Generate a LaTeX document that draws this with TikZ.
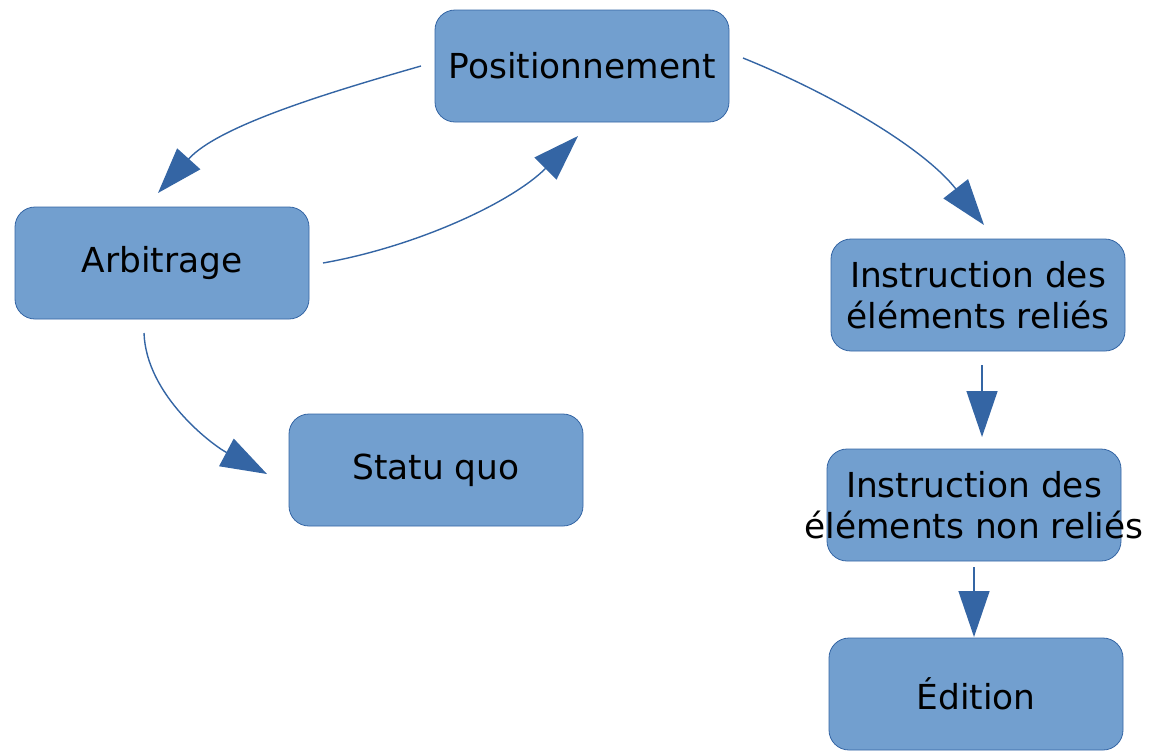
\documentclass[tikz,border=0pt]{standalone}
\usepackage{fontspec}
\setmainfont{DejaVu Sans}
\usetikzlibrary{arrows.meta}

\definecolor{boxfill}{HTML}{729FCF}
\definecolor{boxline}{HTML}{3465A4}

\tikzset{
  etape/.style={draw=boxline, fill=boxfill, rounded corners=10pt, minimum width=147pt,
    minimum height=56pt, inner sep=0pt, outer sep=7pt, align=center,
    font=\fontsize{17.2}{20.4}\selectfont},
  fleche/.style={draw=boxline, line width=0.7pt, -{Triangle[length=23pt,width=15.5pt]}}
}

\begin{document}
\begin{tikzpicture}[x=0.5pt,y=-0.5pt]

\useasboundingbox (0,0) rectangle (1154,751);

% Etapes
\draw (582,66) node[etape] (Positionnement) {Positionnement};
\draw (162,263) node[etape] (Arbitrage) {Arbitrage};
\draw (436,470) node[etape] (StatuQuo) {Statu quo};
\draw (978,295) node[etape] (Relies) {Instruction des\\éléments reliés};
\draw (974,505) node[etape] (NonRelies) {Instruction des\\\makebox[0pt]{éléments non reliés}};
\draw (976,694) node[etape] (Edition) {Édition};

% Pfeile
\draw[fleche] (Positionnement.west) to[out=196,in=48,looseness=0.8] ([xshift=-2pt]Arbitrage.north);
\draw[fleche] (Arbitrage.east) to[out=10,in=225,looseness=0.85] ([xshift=-2pt]Positionnement.south);
\draw[fleche] ([yshift=4pt]Positionnement.east) to[out=-22,in=128,looseness=0.85] ([xshift=3pt]Relies.north);
\draw[fleche] ([xshift=-9pt]Arbitrage.south) to[out=-88,in=152,looseness=0.85] ([shift={(-4pt,-2pt)}]StatuQuo.west);
\draw[fleche, shorten >=-1pt] ([xshift=2pt]Relies.south) -- ([xshift=2pt]Relies.south |- NonRelies.north);
\draw[fleche, shorten <=-4pt, shorten >=-6.5pt] (NonRelies.south) -- (NonRelies.south |- Edition.north);

\end{tikzpicture}
\end{document}
